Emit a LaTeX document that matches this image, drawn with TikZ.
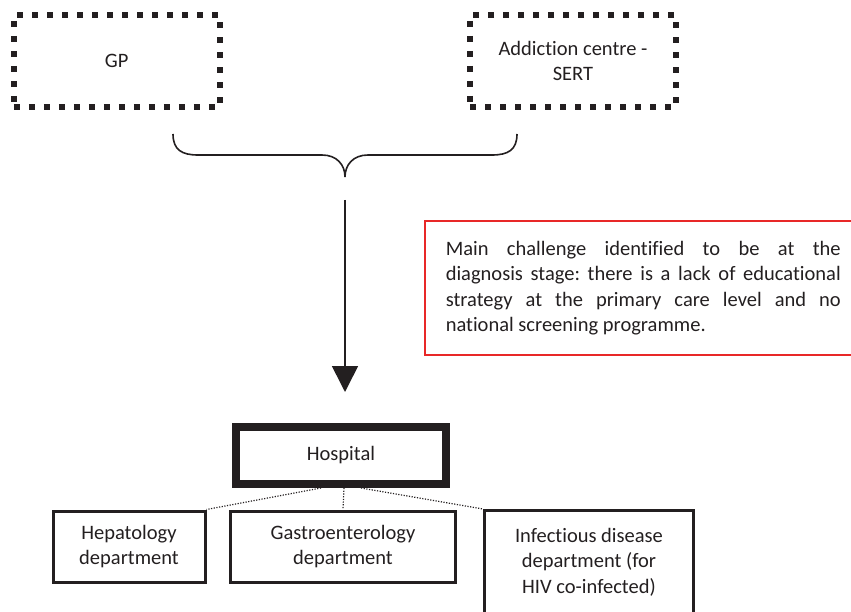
\documentclass[tikz,border=0pt]{standalone}
\usepackage{fontspec}
\setmainfont{Carlito}[Ligatures=NoCommon]
\usetikzlibrary{arrows.meta,calc}
\definecolor{ink}{RGB}{35,31,32}
\definecolor{notered}{RGB}{232,40,40}
\frenchspacing
\begin{document}
\begin{tikzpicture}[x=1pt,y=-1pt,
  every node/.style={font=\fontsize{20.5}{25.5}\selectfont, text=ink},
  dotbox/.style={draw=ink, line width=6pt, dash pattern=on 6pt off 9pt,
    minimum width=206pt, minimum height=92pt, align=center},
  dept/.style={draw=ink, line width=3pt, align=center, inner sep=2pt},
  dotline/.style={draw=ink, line width=1.2pt, dash pattern=on 1.2pt off 1.5pt},
  heavy/.style={draw=ink, line width=1.6pt}
]
\useasboundingbox (0,0) rectangle (851,612);
\clip (0,0) rectangle (851,612);

\node[dotbox] (gp) at (116.75,61) {GP};
\node[dotbox] (sert) at (573,61) {Addiction centre -\\SERT};

\draw[heavy] (173,134) .. controls (173,150) and (182,155) .. (198,155)
  -- (322,155) .. controls (337,155) and (345,165) .. (345,177) coordinate (tip)
  .. controls (345,165) and (353,155) .. (368,155)
  -- (492,155) .. controls (508,155) and (517,150) .. (517,134);

\coordinate (astart) at (345,200);
\coordinate (aend) at (345,392);
\draw[heavy, -{Triangle[length=26pt,width=26pt]}] (astart) -- (aend);

\node[draw=notered, line width=1.5pt, text width=395pt, align=justify,
  inner xsep=21pt, minimum height=134pt, anchor=west] (note) at (424,288)
  {Main challenge identified to be at the\linebreak diagnosis stage: there is a lack of educational\linebreak strategy at the primary care level and no\linebreak national screening programme.};

\node[draw=ink, line width=8pt, minimum width=210pt, minimum height=57pt] (hosp) at (341,455.5) {Hospital};

\node[dept, minimum width=152pt, minimum height=71pt] (hep) at (129,546.5) {Hepatology\\department};
\node[dept, minimum width=225pt, minimum height=71pt] (gastro) at (343,546.5) {Gastroenterology\\department};
\node[dept, anchor=north, minimum width=209pt, minimum height=103pt] (inf) at (589,509) {Infectious disease\\department (for\\HIV co-infected)};

\draw[dotline] ($(hosp.south)+(-20,0)$) -- (hep.north east);
\draw[dotline] ($(hosp.south)+(3,0)$) -- (gastro.north);
\draw[dotline] ($(hosp.south)+(20,0)$) -- (inf.north west);
\end{tikzpicture}
\end{document}
